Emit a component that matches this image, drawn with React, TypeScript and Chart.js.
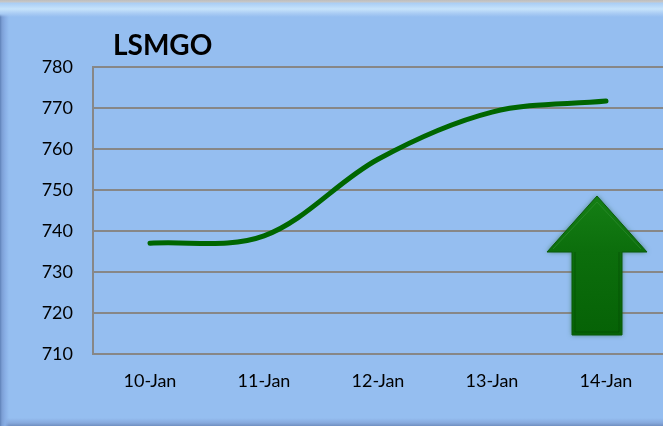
import React, { useEffect, useRef } from "react";
import { Chart, registerables } from "chart.js";

Chart.register(...registerables);

const categories = ["10-Jan", "11-Jan", "12-Jan", "13-Jan", "14-Jan"];
const lsmgoValues = [737, 738.8, 757.5, 769, 771.7];
const yMin = 710;
const yMax = 780;
const yStep = 10;
const chartTitle = "LSMGO";

const FONT = "Lato, 'Open Sans', sans-serif";
const GRID = "#878787";

const decorPlugin = {
  id: "decor",
  afterDatasetsDraw(chart: any) {
    const { ctx, chartArea } = chart;
    const L = chartArea.left;
    const T = chartArea.top;
    // title
    ctx.save();
    ctx.font = `bold 28px ${FONT}`;
    ctx.fillStyle = "#000";
    ctx.textBaseline = "alphabetic";
    ctx.textAlign = "left";
    ctx.fillText(chartTitle, L + 20, T - 12);
    ctx.restore();

    // up arrow decoration
    const cx = L + 504;
    const tipY = T + 129;
    const headY = T + 185;
    const baseY = T + 268;
    const headHalf = 50;
    const shaftHalf = 25;
    ctx.save();
    ctx.beginPath();
    ctx.moveTo(cx, tipY);
    ctx.lineTo(cx + headHalf, headY);
    ctx.lineTo(cx + shaftHalf, headY);
    ctx.lineTo(cx + shaftHalf, baseY);
    ctx.lineTo(cx - shaftHalf, baseY);
    ctx.lineTo(cx - shaftHalf, headY);
    ctx.lineTo(cx - headHalf, headY);
    ctx.closePath();
    ctx.shadowColor = "rgba(20,90,40,0.6)";
    ctx.shadowBlur = 5;
    const g = ctx.createLinearGradient(0, tipY, 0, baseY);
    g.addColorStop(0, "#157f15");
    g.addColorStop(0.4, "#0c6e0c");
    g.addColorStop(1, "#066206");
    ctx.fillStyle = g;
    ctx.fill();
    ctx.shadowBlur = 0;
    ctx.lineWidth = 1;
    ctx.strokeStyle = "#0a5a0a";
    ctx.stroke();
    // bevel lines
    ctx.beginPath();
    ctx.moveTo(cx - shaftHalf + 3, headY);
    ctx.lineTo(cx - shaftHalf + 3, baseY - 3);
    ctx.lineTo(cx + shaftHalf - 3, baseY - 3);
    ctx.lineTo(cx + shaftHalf - 3, headY);
    ctx.strokeStyle = "rgba(0,70,0,0.5)";
    ctx.stroke();
    ctx.beginPath();
    ctx.moveTo(cx - headHalf + 6, headY - 3);
    ctx.lineTo(cx, tipY + 6);
    ctx.lineTo(cx + headHalf - 6, headY - 3);
    ctx.strokeStyle = "rgba(60,150,60,0.45)";
    ctx.stroke();
    ctx.restore();
  },
};

export default function App() {
  const ref = useRef<HTMLCanvasElement | null>(null);

  useEffect(() => {
    if (!ref.current) return;
    const chart = new Chart(ref.current, {
      type: "line",
      data: {
        labels: categories,
        datasets: [
          {
            label: chartTitle,
            data: lsmgoValues,
            borderColor: "#006600",
            borderWidth: 5,
            borderCapStyle: "round",
            pointRadius: 0,
            tension: 0.34,
            fill: false,
          },
        ],
      },
      options: {
        animation: false,
        responsive: false,
        maintainAspectRatio: false,
        layout: { padding: { top: 67, right: 0, left: 0, bottom: 0 } },
        plugins: {
          legend: { display: false },
          title: { display: false },
          tooltip: { enabled: false },
        },
        scales: {
          x: {
            offset: true,
            grid: { display: false, drawTicks: false, offset: true },
            border: { display: true, color: GRID, width: 2 },
            ticks: {
              color: "#000",
              font: { family: FONT, size: 18 },
              padding: 16,
              maxRotation: 0,
            },
            afterFit(scale: any) {
              scale.height = 72;
            },
          },
          y: {
            min: yMin,
            max: yMax,
            grid: { color: GRID, lineWidth: 2, drawTicks: false },
            border: { display: true, color: GRID, width: 2 },
            ticks: {
              stepSize: yStep,
              color: "#000",
              font: { family: FONT, size: 18 },
              padding: 20,
            },
            afterFit(scale: any) {
              scale.width = 93;
            },
          },
        },
      },
      plugins: [decorPlugin],
    });
    return () => chart.destroy();
  }, []);

  return (
    <div
      style={{
        position: "relative",
        width: 663,
        height: 426,
        overflow: "hidden",
        backgroundColor: "#95bef0",
        backgroundImage: [
          "linear-gradient(to bottom, #bdbdbd 0px, #c8c8c8 2px, #a9cdf4 3px, #c6e3fb 9px, #a6c9f3 14px, rgba(149,190,240,0) 17px)",
          "linear-gradient(to right, #5f82b8 0px, #7c9fd5 2px, #88aee5 5px, rgba(149,190,240,0) 9px)",
          "linear-gradient(to top, #6f8fc0 0px, #86a8dc 3px, rgba(149,190,240,0) 8px)",
        ].join(","),
      }}
    >
      <style>{`body{margin:0}`}</style>
      <canvas
        ref={ref}
        width={663}
        height={426}
        style={{ position: "absolute", left: 0, top: 0, width: 663, height: 426 }}
      />
    </div>
  );
}
